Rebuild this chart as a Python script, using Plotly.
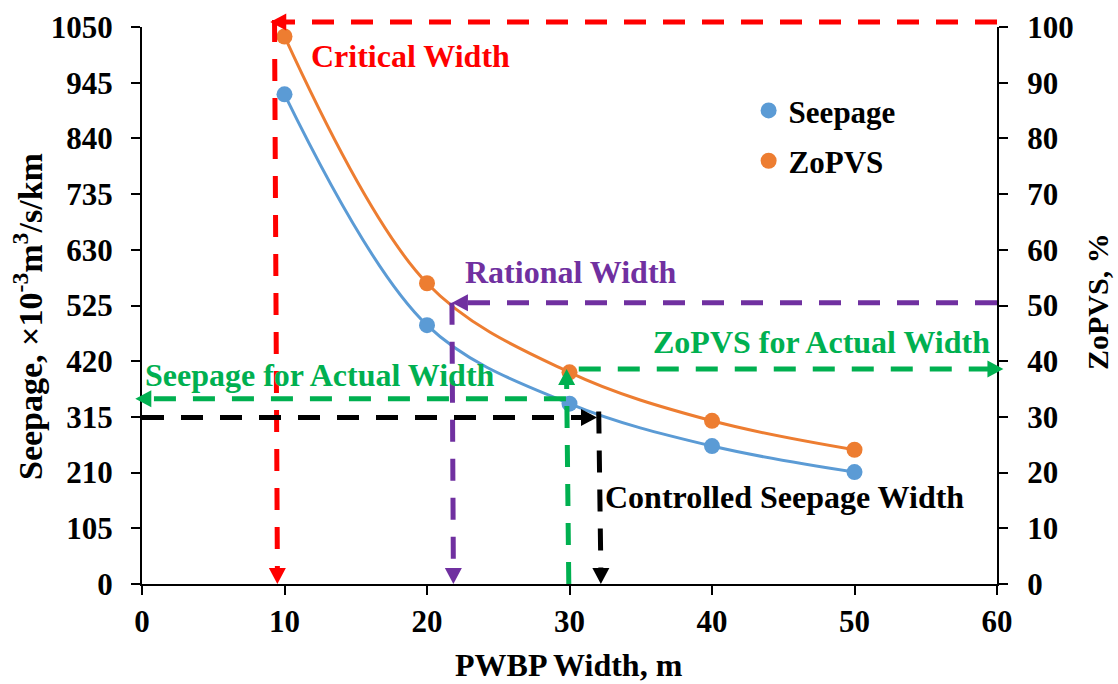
import plotly.graph_objects as go

# ---------------- data ----------------
widths = [10, 20, 30, 40, 50]                 # PWBP width, m
seepage = [923, 488, 340, 260, 211]           # x10^-3 m3/s/km
zopvs = [98.3, 54.0, 38.0, 29.3, 24.1]        # %

x_ticks = [0, 10, 20, 30, 40, 50, 60]
y_ticks = [0, 105, 210, 315, 420, 525, 630, 735, 840, 945, 1050]
y2_ticks = [0, 10, 20, 30, 40, 50, 60, 70, 80, 90, 100]

# reference (guide) values
critical_width = 9.5
critical_zopvs = 100.9
rational_width = 21.8
rational_zopvs = 50.5
actual_width = 29.9
actual_seepage = 349
actual_zopvs = 38.6
controlled_width = 32.1
controlled_seepage = 314

X_RANGE = [0, 60]
Y_RANGE = [0, 1050]
Y2_RANGE = [0, 100]

FIG_W, FIG_H = 1118, 684
ML, MR, MT, MB = 142, 121, 27, 100
W = FIG_W - ML - MR
H = FIG_H - MT - MB

FONT = "Liberation Serif, Times New Roman, serif"
BLUE = "#5B9BD5"
ORANGE = "#ED7D31"
RED = "#FF0000"
PURPLE = "#7030A0"
GREEN = "#00B050"
BLACK = "#000000"


def dpx(x):
    return (x - X_RANGE[0]) / (X_RANGE[1] - X_RANGE[0]) * W


def dpy(y):
    return (1 - (y - Y_RANGE[0]) / (Y_RANGE[1] - Y_RANGE[0])) * H


def dpy2(v):
    return (1 - (v - Y2_RANGE[0]) / (Y2_RANGE[1] - Y2_RANGE[0])) * H


def pap(px, py):
    return px / W, 1 - py / H


shapes = []
AL, AH = 16, 8.5  # arrow head length / half width (px)
DASH = "22px,17px"


def dline(p0, p1, color):
    x0, y0 = pap(*p0)
    x1, y1 = pap(*p1)
    shapes.append(dict(type="line", xref="paper", yref="paper",
                       x0=x0, y0=y0, x1=x1, y1=y1,
                       line=dict(color=color, width=5, dash=DASH), layer="above"))


def head(tip, direction, color):
    tx, ty = tip
    if direction == "down":
        pts = [(tx - AH, ty - AL), (tx + AH, ty - AL), (tx, ty)]
        base = (tx, ty - AL + 1)
    elif direction == "up":
        pts = [(tx - AH, ty + AL), (tx + AH, ty + AL), (tx, ty)]
        base = (tx, ty + AL - 1)
    elif direction == "left":
        pts = [(tx + AL, ty - AH), (tx + AL, ty + AH), (tx, ty)]
        base = (tx + AL - 1, ty)
    else:
        pts = [(tx - AL, ty - AH), (tx - AL, ty + AH), (tx, ty)]
        base = (tx - AL + 1, ty)
    path = "M " + " L ".join("%.5f,%.5f" % pap(px, py) for px, py in pts) + " Z"
    shapes.append(dict(type="path", xref="paper", yref="paper", path=path,
                       fillcolor=color, line=dict(color=color, width=0), layer="above"))
    return base


# Critical width (red)
tip = (dpx(critical_width), dpy(0))
b = head(tip, "down", RED)
dline((dpx(critical_width - 0.2), dpy2(critical_zopvs) - 2), b, RED)
tip = (dpx(critical_width - 0.5), dpy2(critical_zopvs))
b = head(tip, "left", RED)
dline((dpx(60), dpy2(critical_zopvs)), b, RED)

# Rational width (purple)
tip = (dpx(rational_width - 0.05), dpy2(rational_zopvs))
b = head(tip, "left", PURPLE)
dline((dpx(60), dpy2(rational_zopvs)), b, PURPLE)
tip = (dpx(rational_width + 0.05), dpy(0))
b = head(tip, "down", PURPLE)
dline((dpx(rational_width - 0.05), dpy2(rational_zopvs)), b, PURPLE)

# Actual width (green)
tip = (dpx(-0.47), dpy(actual_seepage))
b = head(tip, "left", GREEN)
dline((dpx(actual_width - 0.15), dpy(actual_seepage)), b, GREEN)
tip = (dpx(actual_width - 0.1), dpy2(actual_zopvs))
b = head(tip, "up", GREEN)
dline((dpx(actual_width + 0.05), dpy(0)), b, GREEN)
tip = (dpx(60.45), dpy2(actual_zopvs))
b = head(tip, "right", GREEN)
dline((dpx(actual_width + 0.75), dpy2(actual_zopvs)), b, GREEN)

# Controlled seepage width (black)
tip = (dpx(controlled_width - 0.17), dpy(controlled_seepage))
b = head(tip, "right", BLACK)
dline((dpx(0), dpy(controlled_seepage)), b, BLACK)
tip = (dpx(controlled_width + 0.1), dpy(0))
b = head(tip, "down", BLACK)
dline((dpx(controlled_width - 0.05), dpy(controlled_seepage) - 6), b, BLACK)

fig = go.Figure()
fig.add_trace(go.Scatter(x=widths, y=seepage, mode="lines", line=dict(color=BLUE, width=3, shape="spline"),
                         showlegend=False, hoverinfo="skip"))
fig.add_trace(go.Scatter(x=widths, y=zopvs, mode="lines", line=dict(color=ORANGE, width=3, shape="spline"),
                         yaxis="y2", showlegend=False, hoverinfo="skip"))
fig.add_trace(go.Scatter(x=widths, y=seepage, mode="markers", name="Seepage",
                         marker=dict(color=BLUE, size=16), legendgroup="a"))
fig.add_trace(go.Scatter(x=widths, y=zopvs, mode="markers", name="ZoPVS", yaxis="y2",
                         marker=dict(color=ORANGE, size=16), legendgroup="b"))

tickfont = dict(family=FONT, size=31, color=BLACK, weight="bold")


def ann_font(c, s=32):
    return dict(family=FONT, size=s, color=c, weight="bold")


annotations = [
    dict(x=18.83, y=995, text="Critical Width", font=ann_font(RED)),
    dict(x=30.13, y=588, text="Rational Width", font=ann_font(PURPLE)),
    dict(x=12.51, y=394, text="Seepage for Actual Width", font=ann_font(GREEN)),
    dict(x=47.67, y=456, text="ZoPVS for Actual Width", font=ann_font(GREEN)),
    dict(x=45.07, y=163.5, text="Controlled Seepage Width", font=ann_font(BLACK)),
]
for a in annotations:
    a.update(xref="x", yref="y", showarrow=False, xanchor="center", yanchor="middle")

# axis titles
annotations.append(dict(xref="paper", yref="paper", x=(28 - ML) / W, y=1 - (317 - MT) / H,
                        text="Seepage, ×10<sup>-3</sup>m<sup>3</sup>/s/km", textangle=-90,
                        showarrow=False, xanchor="center", yanchor="middle", font=ann_font(BLACK, 34)))
annotations.append(dict(xref="paper", yref="paper", x=(1098 - ML) / W, y=1 - (302 - MT) / H,
                        text="ZoPVS, %", textangle=-90,
                        showarrow=False, xanchor="center", yanchor="middle", font=ann_font(BLACK, 30)))
annotations.append(dict(xref="paper", yref="paper", x=(569 - ML) / W, y=1 - (665 - MT) / H,
                        text="PWBP Width, m",
                        showarrow=False, xanchor="center", yanchor="middle", font=ann_font(BLACK, 32)))

axis_common = dict(showgrid=False, zeroline=False, showline=True, linecolor=BLACK, linewidth=2,
                   ticks="outside", ticklen=9, tickwidth=2, tickcolor=BLACK, tickfont=tickfont,
                   automargin=False)

fig.update_layout(
    template="none",
    width=FIG_W, height=FIG_H,
    margin=dict(l=ML, r=MR, t=MT, b=MB, autoexpand=False),
    paper_bgcolor="white", plot_bgcolor="white",
    font=dict(family=FONT, color=BLACK),
    shapes=shapes,
    annotations=annotations,
    showlegend=True,
    legend=dict(x=0.7095, y=0.898, xanchor="left", yanchor="top",
                font=dict(family=FONT, size=31, color=BLACK, weight="bold"),
                bgcolor="rgba(0,0,0,0)", borderwidth=0, tracegroupgap=7, traceorder="grouped"),
    xaxis=dict(range=X_RANGE, tickvals=x_ticks, **axis_common),
    yaxis=dict(range=Y_RANGE, tickvals=y_ticks, ticklabelstandoff=12, **axis_common),
    yaxis2=dict(range=Y2_RANGE, tickvals=y2_ticks, overlaying="y", side="right",
                ticklabelstandoff=13, **axis_common),
)

fig.write_html("out.html")
